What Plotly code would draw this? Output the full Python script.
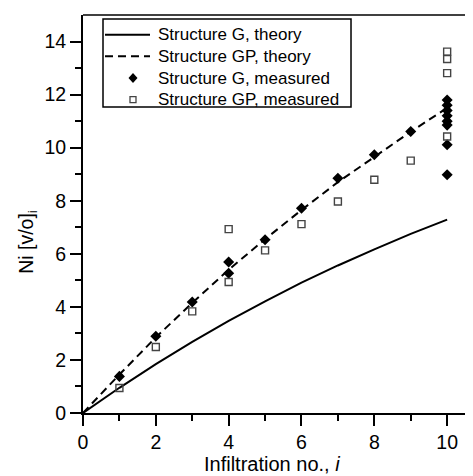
import plotly.graph_objects as go

# Theory curves
theory_i = [0, 1, 2, 3, 4, 5, 6, 7, 8, 9, 10]
theory_G = [0, 0.95, 1.84, 2.68, 3.47, 4.21, 4.91, 5.56, 6.17, 6.75, 7.29]
theory_GP = [0, 1.45, 2.85, 4.15, 5.4, 6.55, 7.65, 8.7, 9.65, 10.6, 11.5]

# Measured values
meas_G_i = [1, 2, 3, 4, 4, 5, 6, 7, 8, 9, 10, 10, 10, 10, 10, 10, 10, 10]
meas_G = [1.38, 2.89, 4.18, 5.69, 5.27, 6.53, 7.72, 8.85, 9.73, 10.61,
          11.8, 11.6, 11.4, 11.2, 11.0, 10.85, 10.11, 8.98]
meas_GP_i = [1, 2, 3, 4, 4, 5, 6, 7, 8, 9, 10, 10, 10, 10]
meas_GP = [0.94, 2.49, 3.83, 4.94, 6.93, 6.13, 7.12, 7.97, 8.79, 9.51,
           13.62, 13.34, 12.81, 10.42]

legend_labels = ["Structure G, theory", "Structure GP, theory",
                 "Structure G, measured", "Structure GP, measured"]
x_ticks = [0, 2, 4, 6, 8, 10]
y_ticks = [0, 2, 4, 6, 8, 10, 12, 14]

font = "Liberation Sans, Arial, sans-serif"
DASH = "8px,5px"

fig = go.Figure()
fig.add_trace(go.Scatter(x=theory_i, y=theory_G, mode="lines",
                         name=legend_labels[0],
                         line=dict(color="black", width=2)))
fig.add_trace(go.Scatter(x=theory_i, y=theory_GP, mode="lines",
                         name=legend_labels[1],
                         line=dict(color="black", width=2, dash=DASH)))
fig.add_trace(go.Scatter(x=meas_G_i, y=meas_G, mode="markers",
                         name=legend_labels[2],
                         marker=dict(symbol="diamond", size=8.5, color="black",
                                     line=dict(width=0))))
fig.add_trace(go.Scatter(x=meas_GP_i, y=meas_GP, mode="markers",
                         name=legend_labels[3],
                         marker=dict(symbol="square-open", size=7, color="#444",
                                     line=dict(width=1.4, color="#444"))))

# ---- hand-drawn legend box (paper coordinates) ----
lx0, lx1, ly0, ly1 = 0.0513, 0.6872, 0.7688, 0.9899
row_y = [0.9506, 0.8963, 0.8417, 0.7872]
sample_x0, sample_x1, sample_xc, text_x = 0.0564, 0.1718, 0.1282, 0.1872

shapes = [
    dict(type="line", xref="paper", yref="paper", x0=0, x1=1, y0=1, y1=1,
         line=dict(color="black", width=1.5)),
    dict(type="rect", xref="paper", yref="paper", x0=lx0, x1=lx1, y0=ly0, y1=ly1,
         line=dict(color="black", width=1.5), fillcolor="white", layer="above"),
    dict(type="line", xref="paper", yref="paper", x0=sample_x0, x1=sample_x1,
         y0=row_y[0], y1=row_y[0], line=dict(color="black", width=2), layer="above"),
    dict(type="line", xref="paper", yref="paper", x0=sample_x0, x1=sample_x1,
         y0=row_y[1], y1=row_y[1], line=dict(color="black", width=2, dash=DASH),
         layer="above"),
    dict(type="path", xref="paper", yref="paper", xsizemode="pixel",
         ysizemode="pixel", xanchor=sample_xc, yanchor=row_y[2],
         path="M0,-5 L4.5,0 L0,5 L-4.5,0 Z", fillcolor="black",
         line=dict(width=0), layer="above"),
    dict(type="path", xref="paper", yref="paper", xsizemode="pixel",
         ysizemode="pixel", xanchor=sample_xc, yanchor=row_y[3],
         path="M-3,-3 L3,-3 L3,3 L-3,3 Z", fillcolor="white",
         line=dict(width=1.3, color="#444"), layer="above"),
]

annotations = [
    dict(text=lab, xref="paper", yref="paper", x=text_x, y=yy,
         xanchor="left", yanchor="middle", showarrow=False,
         font=dict(size=17, family=font, color="black"))
    for lab, yy in zip(legend_labels, row_y)
]
# axis titles
annotations.append(dict(text="Infiltration no., <i>i</i>", xref="paper",
                        yref="paper", x=0.485, y=0, yshift=-51,
                        xanchor="center", yanchor="middle", showarrow=False,
                        font=dict(size=20, family=font, color="black")))
annotations.append(dict(text="Ni [v/o]<sub>i</sub>", xref="paper", yref="paper",
                        x=0, xshift=-55, y=0.43, textangle=-90,
                        xanchor="center", yanchor="middle", showarrow=False,
                        font=dict(size=19.5, family=font, color="black")))

fig.update_layout(
    width=465, height=468,
    margin=dict(l=75, r=0, t=7, b=63, autoexpand=False),
    paper_bgcolor="white", plot_bgcolor="white",
    font=dict(family=font, color="black", size=17),
    showlegend=False,
    xaxis=dict(range=[0, 10.71], tickvals=x_ticks,
               automargin=False,
               ticks="outside", ticklen=11, tickwidth=1.5, tickcolor="black",
               showline=True, linewidth=2, linecolor="black",
               showgrid=False, zeroline=False,
               minor=dict(tickvals=[1, 3, 5, 7, 9], ticks="outside",
                          ticklen=6, tickwidth=1.5, tickcolor="black"),
               tickfont=dict(size=19.5)),
    yaxis=dict(range=[0, 15], tickvals=y_ticks,
               automargin=False,
               ticks="outside", ticklen=11, tickwidth=1.5, tickcolor="black",
               showline=True, linewidth=2, linecolor="black",
               showgrid=False, zeroline=False,
               minor=dict(tickvals=[1, 3, 5, 7, 9, 11, 13], ticks="outside",
                          ticklen=6, tickwidth=1.5, tickcolor="black"),
               tickfont=dict(size=19.5)),
    shapes=shapes,
    annotations=annotations,
)

fig.write_html("out.html")
